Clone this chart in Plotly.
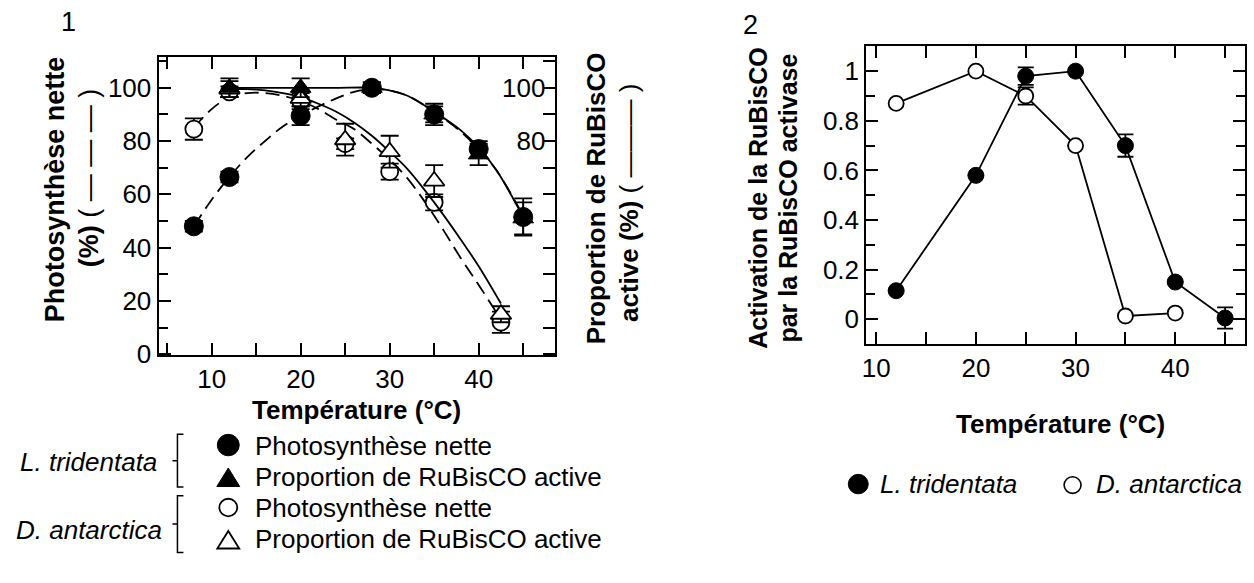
import plotly.graph_objects as go

W, H = 1254, 583
FONT = "Liberation Sans, Arial, Helvetica, sans-serif"

# ---------------- Panel 1 data ----------------
temp_lt_photo = [8, 12, 20, 28, 35, 40, 45]
lt_photo = [48, 66.5, 89.5, 100, 90, 77, 51.5]
lt_photo_err = [2, 2, 3.5, 2, 3, 3, 7]

temp_lt_rub = [12, 20, 28, 35, 40, 45]
lt_rub = [100, 100, 100, 90, 75, 51]
lt_rub_err = [3.5, 3.5, 2, 4, 4, 6]

temp_da_photo = [8, 12, 20, 25, 30, 35, 42.5]
da_photo = [84.5, 98.5, 95, 79, 68.5, 57, 12]
da_photo_err = [4, 2, 3, 2, 3, 3, 4]

temp_da_rub = [12, 20, 25, 30, 35, 42.5]
da_rub = [99.5, 96, 80.5, 76, 65, 15]
da_rub_err = [3, 3, 6, 6, 6, 3]

# fitted curves
curve_lt_photo_t = [8, 10, 12, 14, 16, 18, 20, 22, 24, 26, 28, 30, 32, 35, 38, 40, 42, 45]
curve_lt_photo = [48, 58, 66.5, 74, 80, 85.5, 89.5, 93, 96, 98.5, 99.5, 99, 97, 91, 83.5, 77, 69, 52]
curve_lt_rub_t = [12, 16, 20, 24, 28, 30, 32, 35, 38, 40, 42, 45]
curve_lt_rub = [100, 100, 100, 100, 100, 99, 97, 91, 84, 77.5, 69, 51.5]
curve_da_photo_t = [8, 10, 12, 14, 16, 18, 20, 22, 24, 26, 28, 30, 32, 35, 38, 40, 42.5]
curve_da_photo = [85, 92, 96.5, 98, 98, 97, 95, 92, 88, 84.5, 79, 73, 66, 52, 36, 26, 13]
curve_da_rub_t = [12, 14, 16, 18, 20, 22, 24, 26, 28, 30, 32, 35, 38, 40, 42.5]
curve_da_rub = [99.5, 99.5, 99, 98, 96.5, 94, 91, 87, 82, 76, 69.5, 57, 43, 33, 19]

x1_ticks = [10, 20, 30, 40]
x1_minor = [5, 15, 25, 35, 45]
y1_ticks = [0, 20, 40, 60, 80, 100]
y1_minor = [10, 30, 50, 70, 90, 110]
y1r_ticks = [0, 10, 20, 30, 40, 50, 60, 70, 80, 90, 100, 110]
y1r_labels = ["", "", "", "", "", "", "", "", "80", "", "100", ""]

# ---------------- Panel 2 data ----------------
temp2_lt = [12, 20, 25, 30, 35, 40, 45]
act_lt = [0.115, 0.58, 0.98, 1.0, 0.70, 0.15, 0.005]
act_lt_err = [0, 0, 0.035, 0, 0.045, 0, 0.043]
temp2_da = [12, 20, 25, 30, 35, 40]
act_da = [0.87, 1.0, 0.90, 0.70, 0.013, 0.025]
act_da_err = [0, 0, 0.035, 0, 0, 0]

x2_ticks = [10, 15, 20, 25, 30, 35, 40, 45]
x2_labels = ["10", "", "20", "", "30", "", "40", ""]
y2_ticks = [0, 0.2, 0.4, 0.6, 0.8, 1.0]
y2_labels = ["0", "0.2", "0.4", "0.6", "0.8", "1"]
y2_minor = [0.1, 0.3, 0.5, 0.7, 0.9]


def X(p):
    return p / W


def Y(p):
    return 1 - p / H


fig = go.Figure()

DASH = "14px,7px"


def err(arr, w=9):
    return dict(type="data", array=arr, visible=True, color="black", thickness=1.8, width=w)


# curves panel 1
fig.add_trace(go.Scatter(x=curve_lt_photo_t, y=curve_lt_photo, mode="lines", line=dict(color="black", width=1.8, dash=DASH, shape="spline"), xaxis="x", yaxis="y"))
fig.add_trace(go.Scatter(x=curve_da_photo_t, y=curve_da_photo, mode="lines", line=dict(color="black", width=1.8, dash=DASH, shape="spline"), xaxis="x", yaxis="y"))
fig.add_trace(go.Scatter(x=curve_lt_rub_t, y=curve_lt_rub, mode="lines", line=dict(color="black", width=1.8, shape="spline"), xaxis="x", yaxis="y2"))
fig.add_trace(go.Scatter(x=curve_da_rub_t, y=curve_da_rub, mode="lines", line=dict(color="black", width=1.8, shape="spline"), xaxis="x", yaxis="y2"))

# markers panel 1
fig.add_trace(go.Scatter(x=temp_da_photo, y=da_photo, mode="markers", error_y=err(da_photo_err),
                         marker=dict(symbol="circle", size=17, color="white", line=dict(color="black", width=1.8)), xaxis="x", yaxis="y"))
fig.add_trace(go.Scatter(x=temp_da_rub, y=da_rub, mode="markers", error_y=err(da_rub_err),
                         marker=dict(symbol="triangle-up", size=18, color="white", line=dict(color="black", width=1.8)), xaxis="x", yaxis="y2"))
fig.add_trace(go.Scatter(x=temp_lt_photo, y=lt_photo, mode="markers", error_y=err(lt_photo_err),
                         marker=dict(symbol="circle", size=19, color="black", line=dict(color="black", width=1)), xaxis="x", yaxis="y"))
fig.add_trace(go.Scatter(x=temp_lt_rub, y=lt_rub, mode="markers", error_y=err(lt_rub_err),
                         marker=dict(symbol="triangle-up", size=18, color="black", line=dict(color="black", width=1)), xaxis="x", yaxis="y2"))

# panel 2
fig.add_trace(go.Scatter(x=temp2_lt, y=act_lt, mode="lines+markers", error_y=err(act_lt_err, 8),
                         line=dict(color="black", width=1.8),
                         marker=dict(symbol="circle", size=16, color="black", line=dict(color="black", width=1)), xaxis="x2", yaxis="y3"))
fig.add_trace(go.Scatter(x=temp2_da, y=act_da, mode="lines+markers", error_y=err(act_da_err, 8),
                         line=dict(color="black", width=1.8),
                         marker=dict(symbol="circle", size=15, color="white", line=dict(color="black", width=1.8)), xaxis="x2", yaxis="y3"))

tickfont = dict(family=FONT, size=26, color="black")
base = dict(showline=True, linecolor="black", linewidth=2, ticks="inside", tickcolor="black",
            tickwidth=2, showgrid=False, zeroline=False, tickfont=tickfont, fixedrange=True)

fig.update_layout(
    width=W, height=H, margin=dict(l=0, r=0, t=0, b=0),
    paper_bgcolor="white", plot_bgcolor="white", showlegend=False,
    font=dict(family=FONT, color="black"),
    xaxis=dict(base, domain=[X(155), X(553)], range=[4.03, 48.6], anchor="y",
               tickmode="array", tickvals=x1_ticks, ticklen=12, mirror="allticks",
               minor=dict(tickvals=x1_minor, ticklen=9, ticks="inside", tickcolor="black", tickwidth=2)),
    yaxis=dict(base, domain=[Y(364), Y(58)], range=[-0.4, 111.7], anchor="x",
               tickmode="array", tickvals=y1_ticks, ticklen=12, mirror=True,
               minor=dict(tickvals=y1_minor, ticklen=9, ticks="inside", tickcolor="black", tickwidth=2)),
    yaxis2=dict(base, overlaying="y", side="right", anchor="x", range=[-0.4, 111.7],
                tickmode="array", tickvals=y1r_ticks, ticktext=y1r_labels, ticklen=12,
                ticklabelposition="inside"),
    xaxis2=dict(base, domain=[X(865), X(1245)], range=[9, 47], anchor="y3",
                tickmode="array", tickvals=x2_ticks, ticktext=x2_labels, ticklen=12, mirror="allticks"),
    yaxis3=dict(base, domain=[Y(352), Y(47)], range=[-0.098, 1.102], anchor="x2",
                tickmode="array", tickvals=y2_ticks, ticktext=y2_labels, ticklen=12, mirror="allticks",
                minor=dict(tickvals=y2_minor, ticklen=9, ticks="inside", tickcolor="black", tickwidth=2)),
)

ann = []


def text(x, y, s, size=26, xanchor="center", angle=0, **kw):
    ann.append(dict(x=X(x), y=Y(y), xref="paper", yref="paper", text=s, showarrow=False,
                    xanchor=xanchor, yanchor="middle", textangle=angle,
                    font=dict(family=FONT, size=size, color="black"), **kw))


# panel numbers
text(65, 23, "1", size=27)
text(749, 26, "2", size=27)

# axis titles (one annotation per line)
text(52, 194, "<b>Photosynthèse nette</b>", size=27, angle=-90)
text(85, 182, "<b>(%)</b> ( — — — )", size=27, angle=-90)
text(594, 203, "<b>Proportion de RuBisCO</b>", size=26, angle=-90)
text(627, 208, "<b>active (%)</b> ( ——— )", size=26, angle=-90)
text(757, 203, "<b>Activation de la RuBisCO</b>", size=25, angle=-90)
text(787, 203, "<b>par la RuBisCO activase</b>", size=25, angle=-90)
text(354, 420, "<b>Température (°C)</b>", size=26)
text(1060, 434, "<b>Température (°C)</b>", size=26)

# legend panel 1
text(14, 473, "<i>L. tridentata</i>", size=26, xanchor="left")
text(10, 543, "<i>D. antarctica</i>", size=26, xanchor="left")
text(250, 457, "Photosynthèse nette", size=26, xanchor="left")
text(250, 489, "Proportion de RuBisCO active", size=26, xanchor="left")
text(250, 520, "Photosynthèse nette", size=26, xanchor="left")
text(250, 552, "Proportion de RuBisCO active", size=26, xanchor="left")

# legend panel 2
text(877, 496, "<i>L. tridentata</i>", size=26, xanchor="left")
text(1093, 496, "<i>D. antarctica</i>", size=26, xanchor="left")

fig.update_layout(annotations=ann)

shapes = []


def circle(cx, cy, r, fill, lw=1.8):
    shapes.append(dict(type="circle", xref="paper", yref="paper",
                       x0=X(cx - r), x1=X(cx + r), y0=Y(cy + r), y1=Y(cy - r),
                       fillcolor=fill, line=dict(color="black", width=lw)))


def tri(cx, cy, w, h, fill, lw=1.8):
    p = "M {} {} L {} {} L {} {} Z".format(X(cx - w / 2), Y(cy + h / 2), X(cx + w / 2), Y(cy + h / 2), X(cx), Y(cy - h / 2))
    shapes.append(dict(type="path", xref="paper", yref="paper", path=p,
                       fillcolor=fill, line=dict(color="black", width=lw)))


def bracket(x, y0, y1):
    ym = (y0 + y1) / 2
    p = "M {a} {b} L {c} {b} L {c} {d} L {a} {d} M {c} {m} L {e} {m}".format(
        a=X(x + 6), b=Y(y0), c=X(x), d=Y(y1), m=Y(ym), e=X(x - 5))
    shapes.append(dict(type="path", xref="paper", yref="paper", path=p,
                       line=dict(color="black", width=1.5)))


circle(225, 456, 11, "black", 1)
tri(225, 489, 23, 19, "black", 1)
circle(225, 520, 9, "white")
tri(225, 553, 22, 18, "white")
bracket(174, 445, 499)
bracket(174, 508, 566)

circle(857, 496, 10, "black", 1)
circle(1072, 497, 8.5, "white", 1.6)

fig.update_layout(shapes=shapes)

fig.write_html("out.html")
